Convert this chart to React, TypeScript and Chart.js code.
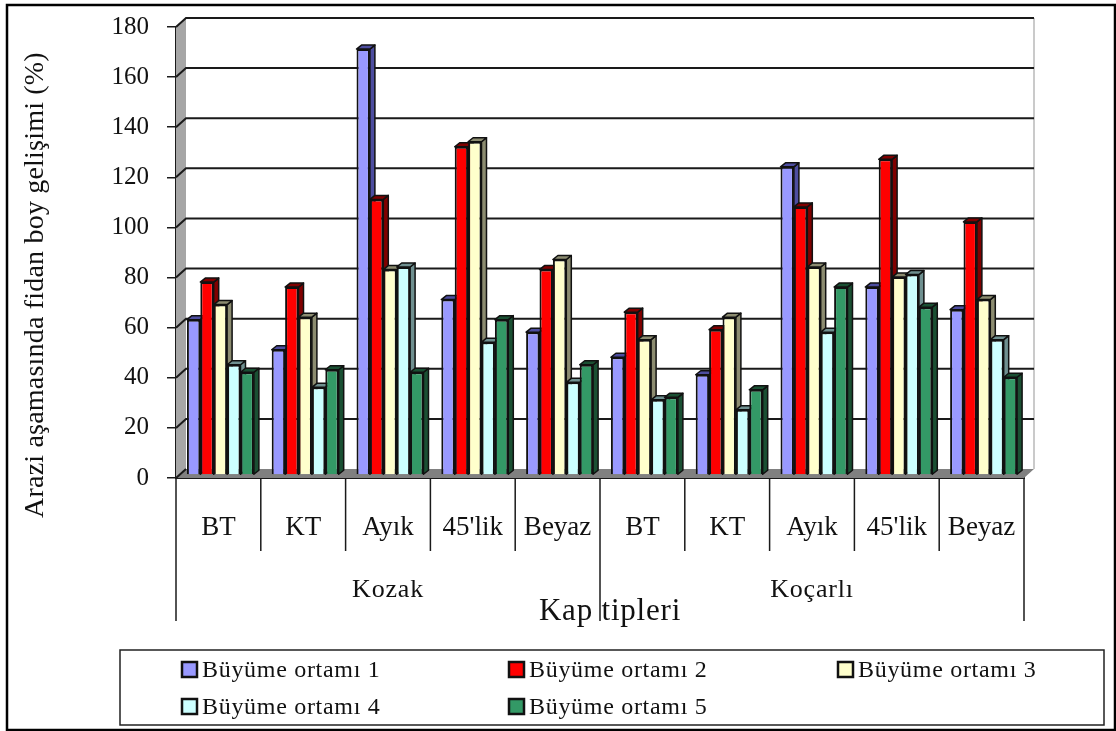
import React, { useEffect, useRef } from "react";
import { Chart, registerables } from "chart.js";

Chart.register(...registerables);

const categories = ["BT", "KT", "Ayık", "45'lik", "Beyaz", "BT", "KT", "Ayık", "45'lik", "Beyaz"];
const regions = ["Kozak", "Koçarlı"];
const seriesNames = ["Büyüme ortamı 1", "Büyüme ortamı 2", "Büyüme ortamı 3", "Büyüme ortamı 4", "Büyüme ortamı 5"];
const ortam1 = [62, 50, 170, 70, 57, 47, 40, 123, 75, 66];
const ortam2 = [77, 75, 110, 131, 82, 65, 58, 107, 126, 101];
const ortam3 = [68, 63, 82, 133, 86, 54, 63, 83, 79, 70];
const ortam4 = [44, 35, 83, 53, 37, 30, 26, 57, 80, 54];
const ortam5 = [41, 42, 41, 62, 44, 31, 34, 75, 67, 39];
const seriesValues = [ortam1, ortam2, ortam3, ortam4, ortam5];
const faceColors = ["#9999FF", "#FF0000", "#FFFFCC", "#CCFFFF", "#339966"];
const sideColors = ["#4D4DA0", "#800000", "#8C8C70", "#6F9090", "#1A5033"];

const SERIF = "'Liberation Serif', serif";
const INK = "#1a1a1a";
const WALL = { dx: 10, dy: -9 };
const BAR = { dx: 2, dy: -3, sideX: 5, sideY: -4 };

// Outer frame, side wall, floor and back-wall grid of the pseudo-3D box.
const drawBox = (chart: any) => {
  const { ctx, chartArea: a, scales } = chart;
  const y = scales.y;
  ctx.save();
  ctx.strokeStyle = "#000";
  ctx.lineWidth = 2.5;
  ctx.strokeRect(7, 5, 1108, 725);

  ctx.fillStyle = "#A6A6A6";
  ctx.beginPath();
  ctx.moveTo(a.left, a.top);
  ctx.lineTo(a.left + WALL.dx, a.top + WALL.dy);
  ctx.lineTo(a.left + WALL.dx, a.bottom + WALL.dy);
  ctx.lineTo(a.left, a.bottom);
  ctx.closePath();
  ctx.fill();

  ctx.fillStyle = "#808080";
  ctx.beginPath();
  ctx.moveTo(a.left, a.bottom);
  ctx.lineTo(a.left + WALL.dx, a.bottom + WALL.dy);
  ctx.lineTo(a.right + WALL.dx, a.bottom + WALL.dy);
  ctx.lineTo(a.right, a.bottom);
  ctx.closePath();
  ctx.fill();

  ctx.strokeStyle = "#B8B8B8";
  ctx.lineWidth = 1.5;
  ctx.beginPath();
  ctx.moveTo(a.right + WALL.dx, a.top + WALL.dy);
  ctx.lineTo(a.right + WALL.dx, a.bottom + WALL.dy);
  ctx.stroke();

  ctx.strokeStyle = INK;
  ctx.lineWidth = 2;
  y.ticks.forEach((t: any) => {
    const py = y.getPixelForValue(t.value);
    ctx.beginPath();
    ctx.moveTo(a.left, py);
    ctx.lineTo(a.left + WALL.dx, py + WALL.dy);
    if (t.value > 0) ctx.lineTo(a.right + WALL.dx, py + WALL.dy);
    ctx.stroke();
  });
  ctx.restore();
};

// Side and top faces of every bar, painted left to right under the front faces.
const drawBarDepth = (chart: any) => {
  const { ctx } = chart;
  ctx.save();
  ctx.lineWidth = 1.5;
  ctx.strokeStyle = "#111";
  ctx.lineJoin = "round";
  categories.forEach((_, c) => {
    seriesValues.forEach((_, s) => {
      const el: any = chart.getDatasetMeta(s).data[c];
      const x1 = el.x + el.width / 2;
      const x0 = el.x - el.width / 2;
      const top = el.y;
      const base = el.base;
      ctx.fillStyle = sideColors[s];
      ctx.beginPath();
      ctx.moveTo(x1, top);
      ctx.lineTo(x1 + BAR.sideX, top + BAR.sideY);
      ctx.lineTo(x1 + BAR.sideX, base + BAR.sideY);
      ctx.lineTo(x1, base);
      ctx.closePath();
      ctx.fill();
      ctx.stroke();
      ctx.beginPath();
      ctx.moveTo(x0, top);
      ctx.lineTo(x0 + BAR.sideX, top + BAR.sideY);
      ctx.lineTo(x1 + BAR.sideX, top + BAR.sideY);
      ctx.lineTo(x1, top);
      ctx.closePath();
      ctx.fill();
      ctx.stroke();
    });
  });
  ctx.restore();
};

// Region brackets under the category labels, axis titles and the framed legend.
const drawAnnotations = (chart: any) => {
  const { ctx, chartArea: a } = chart;
  const step = (a.right - a.left) / categories.length;
  ctx.save();
  ctx.strokeStyle = INK;
  ctx.lineWidth = 1.5;
  for (let i = 0; i <= categories.length; i++) {
    const x = a.left + i * step;
    const long = i % 5 === 0;
    ctx.beginPath();
    ctx.moveTo(x, a.bottom);
    ctx.lineTo(x, a.bottom + (long ? 143 : 73));
    ctx.stroke();
  }
  ctx.fillStyle = "#111";
  ctx.textAlign = "center";
  ctx.textBaseline = "middle";
  ctx.font = `26px ${SERIF}`;
  ctx.letterSpacing = "0.8px";
  regions.forEach((r, i) => {
    ctx.fillText(r, a.left + step * (2.5 + i * 5), 590);
  });

  ctx.font = `31px ${SERIF}`;
  ctx.letterSpacing = "0.8px";
  ctx.fillText("Kap tipleri", 610, 612);

  ctx.save();
  ctx.translate(36, 285);
  ctx.rotate(-Math.PI / 2);
  ctx.font = `28px ${SERIF}`;
  ctx.letterSpacing = "0.2px";
  ctx.fillText("Arazi aşamasında fidan boy gelişimi (%)", 0, 0);
  ctx.restore();

  ctx.strokeStyle = "#222";
  ctx.lineWidth = 1.5;
  ctx.strokeRect(120, 650, 984, 75);
  const columns = [182, 509, 838];
  const rows = [670, 707];
  ctx.textAlign = "left";
  ctx.font = `24px ${SERIF}`;
  ctx.letterSpacing = "0.7px";
  seriesNames.forEach((name, i) => {
    const x = columns[i % 3];
    const y = rows[Math.floor(i / 3)];
    ctx.fillStyle = faceColors[i];
    ctx.strokeStyle = "#111";
    ctx.lineWidth = 2.5;
    ctx.fillRect(x, y - 8, 15, 15);
    ctx.strokeRect(x, y - 8, 15, 15);
    ctx.fillStyle = "#111";
    ctx.fillText(name, x + 20, y + 1);
  });
  ctx.restore();
};

const boxPlugin = {
  id: "pseudo3d",
  beforeDatasetsDraw(chart: any) {
    drawBox(chart);
    chart.ctx.save();
    chart.ctx.translate(BAR.dx, BAR.dy);
    drawBarDepth(chart);
  },
  afterDatasetsDraw(chart: any) {
    chart.ctx.restore();
    drawAnnotations(chart);
  },
};

export default function App() {
  const ref = useRef<HTMLCanvasElement>(null);
  useEffect(() => {
    const chart = new Chart(ref.current as HTMLCanvasElement, {
      type: "bar",
      data: {
        labels: categories,
        datasets: seriesValues.map((data, i) => ({
          label: seriesNames[i],
          data,
          backgroundColor: faceColors[i],
          borderColor: "#111",
          borderWidth: 2,
          barPercentage: 1,
          categoryPercentage: 0.79,
        })),
      },
      options: {
        responsive: false,
        animation: false,
        layout: { padding: { left: 0, right: 92, top: 27, bottom: 0 } },
        plugins: {
          legend: { display: false },
          tooltip: { enabled: false },
        },
        scales: {
          x: {
            afterFit: (s: any) => { s.height = 253; },
            grid: { display: false },
            border: { display: true, color: INK, width: 2 },
            ticks: {
              color: "#111",
              font: { family: SERIF, size: 27 },
              padding: 26,
              maxRotation: 0,
              autoSkip: false,
            },
          },
          y: {
            min: 0,
            max: 180,
            afterFit: (s: any) => {
              s.width = 176;
              s.paddingTop = 0;
              s.paddingBottom = 0;
            },
            border: { display: true, color: INK, width: 2 },
            grid: { drawOnChartArea: false, tickLength: 9, color: INK, lineWidth: 1.5 },
            ticks: {
              stepSize: 20,
              color: "#111",
              padding: 18,
              font: { family: SERIF, size: 25 },
            },
          },
        },
      },
      plugins: [boxPlugin],
    } as any);
    return () => chart.destroy();
  }, []);
  return (
    <canvas
      ref={ref}
      width={1116}
      height={731}
      style={{ position: "fixed", left: 0, top: 0, background: "#fff" }}
    />
  );
}
